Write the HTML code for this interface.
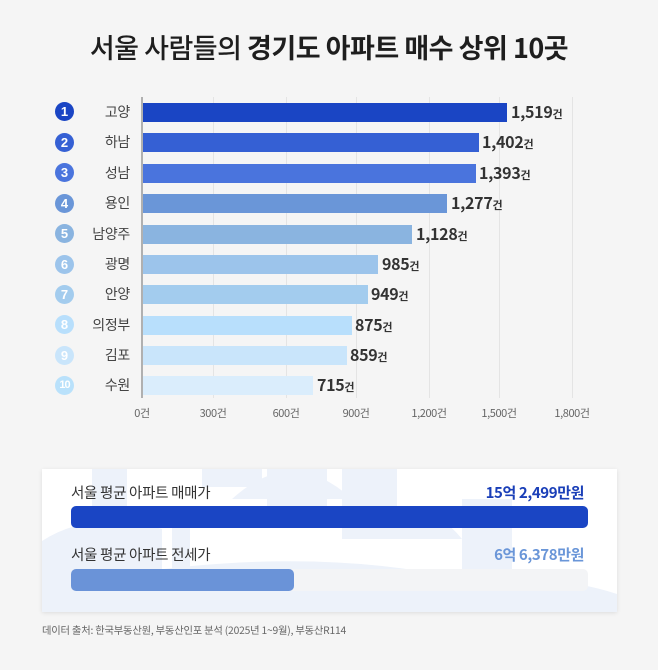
<!DOCTYPE html>
<html><head><meta charset="utf-8">
<style>
*{margin:0;padding:0;box-sizing:border-box}
body{width:658px;height:670px;background:#f5f5f5;font-family:"Liberation Sans","Noto Sans CJK KR",sans-serif;position:relative;overflow:hidden;color:#333}
.abs{position:absolute}
.title{left:0;width:658px;top:29px;text-align:center;font-size:27px;color:#1e1e1e;letter-spacing:-0.5px;font-family:"Noto Sans CJK KR",sans-serif;line-height:36px}
.title b{font-weight:700}
.title span{font-weight:500}
.grid{width:1px;background:#e4e4e4;top:97px;height:301px}
.axis{left:141px;top:97px;width:2px;height:301px;background:#b0b0b0}
.bar{left:142px;height:19px}
.circ{width:19px;height:19px;border-radius:50%;color:#fff;font-weight:700;font-size:13px;text-align:center;line-height:19px;left:55px;font-family:"Liberation Sans",sans-serif}
.lab{right:528px;font-size:14px;color:#444;font-family:"Noto Sans CJK KR",sans-serif;line-height:20px;white-space:nowrap;letter-spacing:-0.3px}
.val{font-size:16px;font-weight:700;color:#333;line-height:20px;white-space:nowrap;letter-spacing:-0.3px;font-family:"Noto Sans CJK KR",sans-serif}
.val small{font-size:11px;font-weight:700;letter-spacing:0}
.tick{top:405px;font-size:11px;color:#666;width:60px;text-align:center;font-family:"Noto Sans CJK KR",sans-serif;letter-spacing:-0.4px}
.card{left:42px;top:469px;width:575px;height:143px;background:#fff;box-shadow:0 1px 4px rgba(0,0,0,0.10);overflow:hidden}
.clab{font-size:14.5px;color:#333;font-family:"Noto Sans CJK KR",sans-serif;letter-spacing:-0.3px;line-height:20px;white-space:nowrap}
.cval{font-size:15px;font-weight:700;font-family:"Noto Sans CJK KR",sans-serif;letter-spacing:-0.4px;line-height:20px;white-space:nowrap}
.foot{left:42px;top:622px;font-size:10.3px;color:#666;font-family:"Noto Sans CJK KR",sans-serif;letter-spacing:-0.2px}
</style></head><body>

<div class="abs title"><span>서울 사람들의</span> <b>경기도 아파트 매수 상위 10곳</b></div>

<!-- gridlines -->
<div class="abs grid" style="left:213px"></div>
<div class="abs grid" style="left:286px"></div>
<div class="abs grid" style="left:356px"></div>
<div class="abs grid" style="left:429px"></div>
<div class="abs grid" style="left:499px"></div>
<div class="abs grid" style="left:572px"></div>

<!-- bars -->
<div class="abs bar" style="top:103px;width:365px;background:#1a45c4"></div>
<div class="abs bar" style="top:133px;width:337px;background:#3560d4"></div>
<div class="abs bar" style="top:164px;width:334px;background:#4a74dd"></div>
<div class="abs bar" style="top:194px;width:305px;background:#6a96d8"></div>
<div class="abs bar" style="top:225px;width:270px;background:#8ab4e0"></div>
<div class="abs bar" style="top:255px;width:236px;background:#9cc4eb"></div>
<div class="abs bar" style="top:285px;width:226px;background:#a3ccee"></div>
<div class="abs bar" style="top:316px;width:210px;background:#b8dffc"></div>
<div class="abs bar" style="top:346px;width:205px;background:#c9e5fb"></div>
<div class="abs bar" style="top:376px;width:171px;background:#daedfc"></div>

<div class="abs axis"></div>

<!-- circles -->
<div class="abs circ" style="top:102px;background:#1a45c4">1</div>
<div class="abs circ" style="top:133px;background:#3560d4">2</div>
<div class="abs circ" style="top:163px;background:#4a74dd">3</div>
<div class="abs circ" style="top:194px;background:#6a96d8">4</div>
<div class="abs circ" style="top:224px;background:#8ab4e0">5</div>
<div class="abs circ" style="top:255px;background:#9cc4eb">6</div>
<div class="abs circ" style="top:285px;background:#a3ccee">7</div>
<div class="abs circ" style="top:315px;background:#b8dffc">8</div>
<div class="abs circ" style="top:346px;background:#c9e5fb">9</div>
<div class="abs circ" style="top:376px;background:#b9e1fb;font-size:11px;letter-spacing:-1px">10</div>

<!-- labels -->
<div class="abs lab" style="top:102px">고양</div>
<div class="abs lab" style="top:132px">하남</div>
<div class="abs lab" style="top:163px">성남</div>
<div class="abs lab" style="top:193px">용인</div>
<div class="abs lab" style="top:224px">남양주</div>
<div class="abs lab" style="top:254px">광명</div>
<div class="abs lab" style="top:284px">안양</div>
<div class="abs lab" style="top:315px">의정부</div>
<div class="abs lab" style="top:345px">김포</div>
<div class="abs lab" style="top:375px">수원</div>

<!-- values -->
<div class="abs val" style="top:101px;left:511px">1,519<small>건</small></div>
<div class="abs val" style="top:131px;left:482px">1,402<small>건</small></div>
<div class="abs val" style="top:162px;left:479px">1,393<small>건</small></div>
<div class="abs val" style="top:192px;left:451px">1,277<small>건</small></div>
<div class="abs val" style="top:223px;left:416px">1,128<small>건</small></div>
<div class="abs val" style="top:253px;left:382px">985<small>건</small></div>
<div class="abs val" style="top:283px;left:371px">949<small>건</small></div>
<div class="abs val" style="top:314px;left:355px">875<small>건</small></div>
<div class="abs val" style="top:344px;left:350px">859<small>건</small></div>
<div class="abs val" style="top:374px;left:317px">715<small>건</small></div>

<!-- ticks -->
<div class="abs tick" style="left:112px">0건</div>
<div class="abs tick" style="left:183px">300건</div>
<div class="abs tick" style="left:256px">600건</div>
<div class="abs tick" style="left:326px">900건</div>
<div class="abs tick" style="left:399px">1,200건</div>
<div class="abs tick" style="left:469px">1,500건</div>
<div class="abs tick" style="left:542px">1,800건</div>

<!-- card -->
<div class="abs card">
  <svg class="abs" style="left:0;top:0" width="575" height="143" viewBox="0 0 575 143">
    <g fill="#edf2fa">
      <path d="M0 72 Q50 40 120 60 L120 143 L0 143 Z"/>
      <rect x="50" y="0" width="35" height="55"/>
      <rect x="160" y="0" width="60" height="18"/>
      <path d="M190 30 Q250 -25 310 30 Z"/>
      <rect x="225" y="0" width="60" height="50"/>
      <rect x="300" y="0" width="55" height="70"/>
      <path d="M330 70 Q380 20 420 70 Z"/>
      <rect x="420" y="30" width="50" height="113"/>
      <path d="M0 120 Q240 70 420 110 L420 143 L0 143 Z"/>
      <rect x="130" y="40" width="18" height="100"/>
      <rect x="260" y="95" width="60" height="48"/>
      <path d="M420 125 Q500 100 575 125 L575 143 L420 143 Z"/>
      <circle cx="38" cy="134" r="14"/>
      <rect x="55" y="125" width="12" height="20" rx="6"/>
      <rect x="80" y="115" width="45" height="30"/>
    </g>
  </svg>
  <div class="abs clab" style="left:29px;top:14px">서울 평균 아파트 매매가</div>
  <div class="abs cval" style="right:33px;top:14px;color:#1a3fb8">15억 2,499만원</div>
  <div class="abs" style="left:29px;top:37px;width:517px;height:22px;border-radius:5px;background:#1a45c4"></div>
  <div class="abs clab" style="left:29px;top:76px">서울 평균 아파트 전세가</div>
  <div class="abs cval" style="right:33px;top:76px;color:#6a96d8">6억 6,378만원</div>
  <div class="abs" style="left:29px;top:100px;width:517px;height:22px;border-radius:5px;background:#f3f4f6"></div>
  <div class="abs" style="left:29px;top:100px;width:223px;height:22px;border-radius:5px;background:#6a93d8"></div>
</div>

<div class="abs foot">데이터 출처: 한국부동산원, 부동산인포 분석 (2025년 1~9월), 부동산R114</div>

</body></html>
